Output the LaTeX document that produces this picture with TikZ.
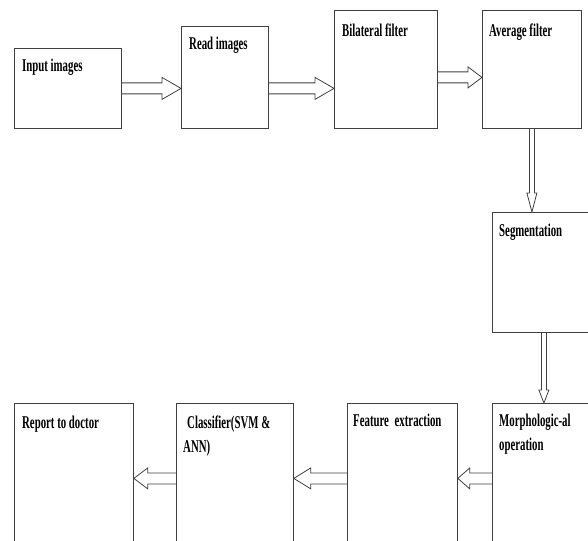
\documentclass[tikz,border=0pt]{standalone}
\usepackage{fontspec}
\setmainfont[FakeStretch=0.6]{Liberation Serif}
\usetikzlibrary{calc}

\tikzset{
  stage/.style={draw=black!75, line width=0.8pt, anchor=north west, inner sep=0pt},
  stagetext/.style={anchor=north west, inner sep=0pt, align=left,
                    font=\fontsize{18}{24}\selectfont\bfseries},
  hollow/.style={draw=black!75, line width=0.8pt}
}

% hollow block arrow: start, tip, shaft half width, head half width, head length
\newcommand{\blockarrow}[5]{%
  \coordinate (bs) at (#1);
  \coordinate (bt) at (#2);
  \coordinate (bb) at ($(bt)!#5!(bs)$);
  \draw[hollow] ($(bs)!#3!90:(bt)$) -- ($(bb)!#3!90:(bt)$) -- ($(bb)!#4!90:(bt)$) -- (bt)
    -- ($(bb)!#4!-90:(bt)$) -- ($(bb)!#3!-90:(bt)$) -- ($(bs)!#3!-90:(bt)$);
}

\begin{document}
\begin{tikzpicture}[x=1pt,y=-1pt]
  \clip (0,0) rectangle (588,540);

  % top row
  \node[stage, minimum width=107pt, minimum height=80pt]  (inp) at (14,48)  {};
  \node[stage, minimum width=87pt,  minimum height=102pt] (rd)  at (181,26) {};
  \node[stage, minimum width=103pt, minimum height=118pt] (bil) at (334,10) {};
  \node[stage, minimum width=99pt,  minimum height=118pt] (avg) at (482,10) {};

  % right column
  \node[stage, minimum width=103pt, minimum height=120pt] (seg) at (492,212) {};

  % bottom row
  \node[stage, minimum width=110pt, minimum height=150pt] (mor) at (492,403) {};
  \node[stage, minimum width=110pt, minimum height=150pt] (fea) at (347,403) {};
  \node[stage, minimum width=117pt, minimum height=150pt] (cls) at (176,403) {};
  \node[stage, minimum width=119pt, minimum height=150pt] (rep) at (14,403)  {};

  % texts
  \node[stagetext] (inp-t) at ([shift={(8,11)}]inp.north west) {Input images};
  \node[stagetext] (rd-t)  at ([shift={(8,11)}]rd.north west)  {Read images};
  \node[stagetext] (bil-t) at ([shift={(8,14)}]bil.north west) {Bilateral filter};
  \node[stagetext] (avg-t) at ([shift={(7,14)}]avg.north west) {Average filter};
  \node[stagetext] (seg-t) at ([shift={(7,12)}]seg.north west) {Segmentation};
  \node[stagetext] (mor-t) at ([shift={(7,11)}]mor.north west) {Morphologic-al\\operation};
  \node[stagetext] (fea-t) at ([shift={(6,11)}]fea.north west) {Feature\hspace{3pt} extraction};
  \node[stagetext] (cls-t) at ([shift={(7,13)}]cls.north west) {\hspace{4pt}Classifier(SVM \&\\ANN)};
  \node[stagetext] (rep-t) at ([shift={(8,13)}]rep.north west) {Report to doctor};

  % arrows
  \blockarrow{inp.east}{inp.east -| rd.west}{5.5pt}{11pt}{19pt}
  \blockarrow{rd.east |- inp.east}{inp.east -| bil.west}{5.5pt}{11pt}{19pt}
  \blockarrow{bil.east |- rd.east}{rd.east -| avg.west}{5.5pt}{10.5pt}{14pt}
  \blockarrow{avg.south}{avg.south |- seg.north}{2.5pt}{5pt}{19pt}
  \blockarrow{seg.south}{seg.south |- mor.north}{2.5pt}{5pt}{13pt}
  \blockarrow{mor.west}{mor.west -| fea.east}{5.5pt}{10.5pt}{12pt}
  \blockarrow{fea.west}{fea.west -| cls.east}{5.5pt}{10.5pt}{17pt}
  \blockarrow{cls.west}{cls.west -| rep.east}{5.5pt}{10.5pt}{14pt}
\end{tikzpicture}
\end{document}
